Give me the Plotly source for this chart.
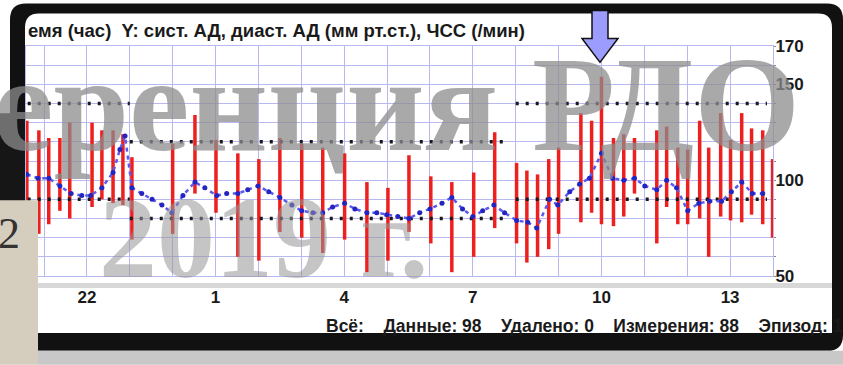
import plotly.graph_objects as go

# ---------------- data ----------------
bp_time = [20.60, 20.88, 21.11, 21.37, 21.60, 22.12, 22.35, 22.61, 22.84, 23.05,
           24.00, 24.52, 25.01, 25.52, 26.01, 26.50, 27.01, 27.50, 28.01, 28.53,
           29.02, 29.51, 30.02, 30.51, 31.02, 31.51, 32.02, 32.26, 32.51, 32.77,
           33.00, 33.52, 33.77, 34.00, 34.28, 34.52, 34.77, 35.29, 35.52, 35.78,
           36.01, 36.29, 36.50, 36.78, 37.01, 37.27, 37.50, 37.76, 37.99]
systolic = [131, 126, 122, 122, 130, 130, 126, 126, 124, 112,
            119, 134, 121, 114, 111, 122, 119, 117, 114, 99,
            96, 113, 102, 99, 104, 125, 109, 105, 103, 111,
            117, 135, 131, 154, 122, 124, 122, 126, 128, 117,
            116, 131, 117, 135, 121, 135, 127, 126, 111]
diastolic = [87, 72, 77, 84, 80, 86, 90, 88, 87, 69,
             72, 93, 83, 60, 58, 73, 70, 62, 69, 52,
             58, 73, 67, 52, 60, 75, 67, 57, 60, 64,
             72, 78, 83, 77, 76, 81, 93, 67, 86, 77,
             77, 80, 60, 81, 79, 78, 82, 77, 70]

hr_time = [20.60, 20.86, 21.11, 21.37, 21.63, 21.88, 22.09, 22.35, 22.61, 22.77,
           22.89, 23.05, 23.28, 23.52, 23.75, 23.98, 24.24, 24.52, 24.75, 25.03,
           25.26, 25.52, 25.75, 25.99, 26.24, 26.50, 26.78, 27.01, 27.27, 27.50,
           27.73, 28.01, 28.25, 28.53, 28.76, 28.99, 29.25, 29.51, 29.76, 30.00,
           30.28, 30.51, 30.76, 31.00, 31.23, 31.49, 31.74, 32.02, 32.28, 32.49,
           32.79, 32.98, 33.26, 33.49, 33.72, 34.00, 34.26, 34.52, 34.77, 35.01,
           35.29, 35.52, 35.75, 36.01, 36.27, 36.52, 36.80, 37.03, 37.27, 37.52,
           37.76]
heart_rate = [103, 101, 101, 97, 93, 92, 92, 96, 104, 116,
              123, 96, 93, 90, 87, 83, 92, 99, 96, 92,
              93, 93, 95, 97, 94, 91, 87, 84, 83, 83,
              86, 88, 85, 83, 83, 82, 81, 80, 83, 85,
              88, 91, 85, 81, 84, 87, 83, 79, 78, 75,
              90, 87, 94, 98, 101, 114, 101, 100, 101, 97,
              95, 100, 96, 84, 88, 89, 89, 94, 99, 93,
              93]

period_start = [20.62, 23.0, 32.0]
period_end = [23.0, 31.8, 37.86]
sys_limit = [140, 120, 140]
dia_limit = [90, 80, 90]

hour_grid = list(range(21, 38))
hour_labels = {22: "22", 25: "1", 28: "4", 31: "7", 34: "10", 37: "13"}
y_grid = list(range(50, 171, 10))
y_labels = {50: "50", 100: "100", 150: "150", 170: "170"}

title_text = "емя (час)  Y: сист. АД, диаст. АД (мм рт.ст.), ЧСС (/мин)"
footer_items = ["Всё:", "Данные: 98", "Удалено: 0", "Измерения: 88", "Эпизод: 1"]
watermark_1 = "ференция РДО"
watermark_2 = "2019 г."

# ---------------- layout geometry ----------------
W, H = 843, 365
L, R, T, B = 26, 70, 45.6, 89
PW, PH = W - L - R, H - T - B
NARROW = "Liberation Sans Narrow, Arial Narrow, Liberation Sans"


def PX(x):
    return (x - L) / PW


def PY(y):
    return (H - B - y) / PH


def rrect(x0, y0, x1, y1, r, bottom_round=True):
    pts = []
    pts.append("M %f,%f" % (PX(x0 + r), PY(y0)))
    pts.append("L %f,%f" % (PX(x1 - r), PY(y0)))
    pts.append("Q %f,%f %f,%f" % (PX(x1), PY(y0), PX(x1), PY(y0 + r)))
    if bottom_round:
        pts.append("L %f,%f" % (PX(x1), PY(y1 - r)))
        pts.append("Q %f,%f %f,%f" % (PX(x1), PY(y1), PX(x1 - r), PY(y1)))
        pts.append("L %f,%f" % (PX(x0 + r), PY(y1)))
        pts.append("Q %f,%f %f,%f" % (PX(x0), PY(y1), PX(x0), PY(y1 - r)))
    else:
        pts.append("L %f,%f" % (PX(x1), PY(y1)))
        pts.append("L %f,%f" % (PX(x0), PY(y1)))
    pts.append("L %f,%f" % (PX(x0), PY(y0 + r)))
    pts.append("Q %f,%f %f,%f Z" % (PX(x0), PY(y0), PX(x0 + r), PY(y0)))
    return " ".join(pts)


def rect(x0, y0, x1, y1, color, layer="below"):
    return dict(type="rect", xref="paper", yref="paper",
                x0=PX(x0), x1=PX(x1), y0=PY(y1), y1=PY(y0),
                fillcolor=color, line=dict(width=0), layer=layer)


fig = go.Figure()

# systolic/diastolic bars
bx, by = [], []
for t, s, d in zip(bp_time, systolic, diastolic):
    bx += [t, t, None]
    by += [d, s, None]
fig.add_trace(go.Scatter(x=bx, y=by, mode="lines",
                         line=dict(color="#ee1f1f", width=3.5),
                         hoverinfo="skip", showlegend=False))

# threshold dotted lines
for a, b_, s, d in zip(period_start, period_end, sys_limit, dia_limit):
    for v in (s, d):
        fig.add_trace(go.Scatter(x=[a, b_], y=[v, v], mode="lines",
                                 line=dict(color="#1a1a1a", width=3.5, dash="3px,7px"),
                                 hoverinfo="skip", showlegend=False))

# heart rate
fig.add_trace(go.Scatter(x=hr_time, y=heart_rate, mode="lines+markers",
                         line=dict(color="#5a5af0", width=2.5, dash="4px,4px"),
                         marker=dict(color="#2424c0", size=5),
                         hoverinfo="skip", showlegend=False))

grid_col = "#b9b9f2"
fig.update_xaxes(range=[20.58, 38.0], tickvals=hour_grid,
                 ticktext=[hour_labels.get(h, "") for h in hour_grid],
                 showgrid=True, gridcolor=grid_col, gridwidth=1,
                 showline=True, linecolor=grid_col, mirror=True,
                 ticks="", ticklabelstandoff=6, zeroline=False,
                 tickfont=dict(family=NARROW, size=17, color="#1a1a1a", weight="bold"))
fig.update_yaxes(range=[50, 170], tickvals=y_grid,
                 ticktext=[y_labels.get(v, "") for v in y_grid],
                 side="right", showgrid=True, gridcolor=grid_col, gridwidth=1,
                 showline=True, linecolor=grid_col, mirror=True,
                 ticks="outside", ticklen=2, tickcolor="#888", zeroline=False,
                 ticklabelstandoff=-4,
                 tickfont=dict(family=NARROW, size=17, color="#1a1a1a", weight="bold"))

shapes = []
# frame
shapes.append(dict(type="path", xref="paper", yref="paper",
                   path=rrect(10, 3, 843, 351, 16), fillcolor="#111111",
                   line=dict(width=0), layer="below"))
shapes.append(dict(type="path", xref="paper", yref="paper",
                   path=rrect(25, 13, 832, 333, 14, bottom_round=False), fillcolor="#ffffff",
                   line=dict(width=0), layer="below"))
shapes.append(rect(25, 283, 832, 288, "#d8d8d8"))
shapes.append(rect(0, 113, 25, 205, "#161616"))
# left beige block and bottom grey band
shapes.append(rect(0, 200, 38, 365, "#d5cebf", layer="above"))
shapes.append(rect(38, 351, 843, 365, "#c8c8c8", layer="above"))
# arrow
ax = [592, 608, 608, 618, 600, 582, 592]
ay = [10, 10, 38, 38, 62, 38, 38]
apath = "M " + " L ".join("%f,%f" % (PX(x), PY(y)) for x, y in zip(ax, ay)) + " Z"
shapes.append(dict(type="path", xref="paper", yref="paper", path=apath,
                   fillcolor="#9c9cff", line=dict(color="#111", width=1.5), layer="above"))

annotations = []
annotations.append(dict(xref="paper", yref="paper", x=PX(26), y=PY(30),
                        xanchor="left", yanchor="middle", showarrow=False,
                        text=title_text.replace("  ", "&nbsp;&nbsp;"),
                        font=dict(family=NARROW, size=18.5, color="#1a1a1a", weight="bold")))
footer_text = ("&nbsp;" * 4).join(footer_items).replace(": ", ":&nbsp;")
annotations.append(dict(xref="paper", yref="paper", x=PX(324), y=PY(326),
                        xanchor="left", yanchor="middle", showarrow=False,
                        text=footer_text,
                        font=dict(family=NARROW, size=17.5, color="#1a1a1a", weight="bold")))
# watermark
annotations.append(dict(xref="paper", yref="paper", x=PX(802), y=PY(104),
                        xanchor="right", yanchor="middle", showarrow=False,
                        text=watermark_1,
                        font=dict(family="Liberation Serif, DejaVu Serif", size=136,
                                  color="rgba(140,140,140,0.75)", weight="bold")))
annotations.append(dict(xref="paper", yref="paper", x=PX(97), y=PY(238),
                        xanchor="left", yanchor="middle", showarrow=False,
                        text=watermark_2,
                        font=dict(family="Liberation Serif, DejaVu Serif", size=116,
                                  color="rgba(150,150,150,0.55)", weight="bold")))
annotations.append(dict(xref="paper", yref="paper", x=PX(-4), y=PY(233),
                        xanchor="left", yanchor="middle", showarrow=False,
                        text="2",
                        font=dict(family="Liberation Serif, DejaVu Serif", size=44,
                                  color="#333333")))

fig.update_layout(width=W, height=H, margin=dict(l=L, r=R, t=T, b=B),
                  paper_bgcolor="#ffffff", plot_bgcolor="#ffffff",
                  shapes=shapes, annotations=annotations, showlegend=False)

fig.write_html("out.html", config={"displayModeBar": False},
               post_script="document.body.style.margin='0';document.body.style.padding='0';")
